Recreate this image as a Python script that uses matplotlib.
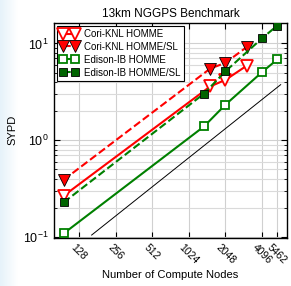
import matplotlib
matplotlib.use("Agg")
import matplotlib.pyplot as plt
import numpy as np
from matplotlib.ticker import FixedLocator, FixedFormatter, LogLocator, NullFormatter

plt.rcParams['font.family'] = ['Liberation Sans', 'DejaVu Sans']
plt.rcParams['mathtext.fontset'] = 'cm'

# Data
cori_nodes = [96, 1536, 2048, 3072]
cori_homme = [0.267, 3.6, 4.2, 5.9]
cori_homme_sl = [0.39, 5.5, 6.3, 9.2]
edison_nodes = [96, 1366, 2048, 4096, 5462]
edison_homme = [0.109, 1.39, 2.33, 5.06, 6.84]
edison_homme_sl = [0.228, 3.03, 5.15, 11.3, 15.3]
ideal_nodes = [163, 5820]
ideal_sypd = [0.105, 3.75]
xtick_vals = [128, 256, 512, 1024, 2048, 4096, 5462]
xtick_labels = ['128', '256', '512', '1024', '2048', '4096', '5462']

fig = plt.figure(figsize=(2.91, 2.86), dpi=100)

# faint bluish screenshot edge on the left
bg = fig.add_axes([0, 0, 0.06, 1], zorder=-10)
grad = np.linspace(1, 0, 64)[None, :]
rgb = np.ones((1, 64, 3))
base = np.array([0.90, 0.95, 0.98])
rgb = base[None, None, :] * grad[..., None] + (1 - grad[..., None]) * 1.0
bg.imshow(rgb, aspect='auto', extent=[0, 1, 0, 1])
bg.set_axis_off()

ax = fig.add_axes([0.1856, 0.168, 0.8004, 0.753])

red = '#ff0000'
green = '#008000'
dkgreen = '#006400'

ax.plot(cori_nodes, cori_homme, '-', color=red, lw=1.5, marker='v', ms=8,
        mfc='white', mec=red, mew=1.3, label='Cori-KNL HOMME', zorder=4)
ax.plot(cori_nodes, cori_homme_sl, '--', color=red, lw=1.5, marker='v', ms=8,
        mfc=red, mec='black', mew=0.6, label='Cori-KNL HOMME/SL', zorder=4)
ax.plot(edison_nodes, edison_homme, '-', color=green, lw=1.5, marker='s', ms=5.5,
        mfc='white', mec=green, mew=1.3, label='Edison-IB HOMME', zorder=4)
ax.plot(edison_nodes, edison_homme_sl, '--', color=green, lw=1.5, marker='s', ms=5.5,
        mfc=dkgreen, mec='black', mew=0.6, label='Edison-IB HOMME/SL', zorder=4)
ax.plot(ideal_nodes, ideal_sypd, '-', color='black', lw=0.7, zorder=3)

ax.set_xscale('log', base=2)
ax.set_yscale('log')
ax.set_xlim(80, 6550)
ax.set_ylim(0.098, 16.4)

ax.xaxis.set_major_locator(FixedLocator(xtick_vals))
ax.xaxis.set_major_formatter(FixedFormatter(xtick_labels))
ax.xaxis.set_minor_locator(FixedLocator([]))
ax.yaxis.set_major_locator(LogLocator(base=10))
ax.yaxis.set_minor_locator(LogLocator(base=10, subs=range(2, 10)))
ax.yaxis.set_minor_formatter(NullFormatter())

ax.grid(True, which='major', color='#d0d0d0', lw=0.8)
ax.grid(True, which='minor', axis='y', color='#dadada', lw=0.8)
ax.set_axisbelow(True)

ax.tick_params(which='both', direction='in', top=True, right=True)
ax.tick_params(which='major', length=4, width=0.8)
ax.tick_params(which='minor', length=2.5, width=0.6)
ax.tick_params(axis='y', labelsize=9, pad=4)
ax.tick_params(axis='x', labelsize=7.5, pad=3)
for lbl in ax.get_xticklabels():
    lbl.set_rotation(-45)
    lbl.set_ha('center')
    lbl.set_va('top')

for s in ax.spines.values():
    s.set_linewidth(1.0)

ax.set_title('13km NGGPS Benchmark', fontsize=8.5, pad=4)
ax.set_ylabel('SYPD', fontsize=8)
ax.set_xlabel('Number of Compute Nodes', fontsize=8, labelpad=3)

leg = ax.legend(loc='upper left', numpoints=2, fontsize=7, fancybox=False,
                edgecolor='black', framealpha=1, borderaxespad=0.3,
                handlelength=1.8, handletextpad=0.6, borderpad=0.35,
                labelspacing=0.3)
leg.get_frame().set_linewidth(0.8)

fig.savefig('out.png', dpi=100)
